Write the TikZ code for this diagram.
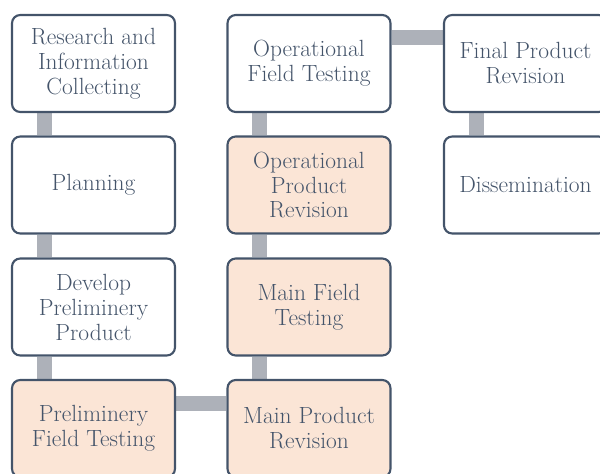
\documentclass[tikz,border=0pt]{standalone}
\usetikzlibrary{backgrounds}
\definecolor{slate}{HTML}{44546A}
\definecolor{peach}{HTML}{FBE5D6}
\definecolor{linkgray}{HTML}{ADB1B9}
\tikzset{box/.style={draw=slate, line width=1.8pt, rounded corners=7pt, fill=white,
    minimum width=163*0.03cm, minimum height=97*0.03cm, align=center, text=slate,
    font=\fontsize{20}{21.3}\selectfont, inner sep=2pt},
  hot/.style={box, fill=peach},
  link/.style={draw=linkgray, line width=15*0.03cm}}

\begin{document}
\begin{tikzpicture}[x=0.03cm,y=-0.03cm]
    \useasboundingbox (0,0) rectangle (600,473);

    % first column
    \node[box](R1) at (93.5,63.5) {Research and\\Information\\Collecting};
    \node[box](R2) at (93.5,185) {Planning};
    \node[box](R3) at (93.5,307) {Develop\\Preliminery\\Product};
    \node[hot](R4) at (93.5,428.5) {Preliminery\\Field Testing};
    % second column
    \node[hot](M4) at (309,428.5) {Main Product\\Revision};
    \node[hot](M3) at (309,307) {Main Field\\Testing};
    \node[hot](M2) at (309,185) {Operational\\Product\\Revision};
    \node[box](M1) at (309,63.5) {Operational\\Field Testing};
    % third column
    \node[box](F1) at (525.5,63.5) {Final Product\\Revision};
    \node[box](F2) at (525.5,185) {Dissemination};

    \begin{scope}[on background layer]
      \foreach \a/\b in {R1/R2,R2/R3,R3/R4,M1/M2,M2/M3,M3/M4,F1/F2}
      {
        \draw[link] ([xshift=33.5*0.03cm]\a.south west) -- ([xshift=33.5*0.03cm]\b.north west);
      }
      \draw[link] ([yshift=-24.5*0.03cm]R4.north east) -- ([yshift=-24.5*0.03cm]M4.north west);
      \draw[link] ([yshift=-24*0.03cm]M1.north east) -- ([yshift=-24*0.03cm]F1.north west);
    \end{scope}
  \end{tikzpicture}
\end{document}
